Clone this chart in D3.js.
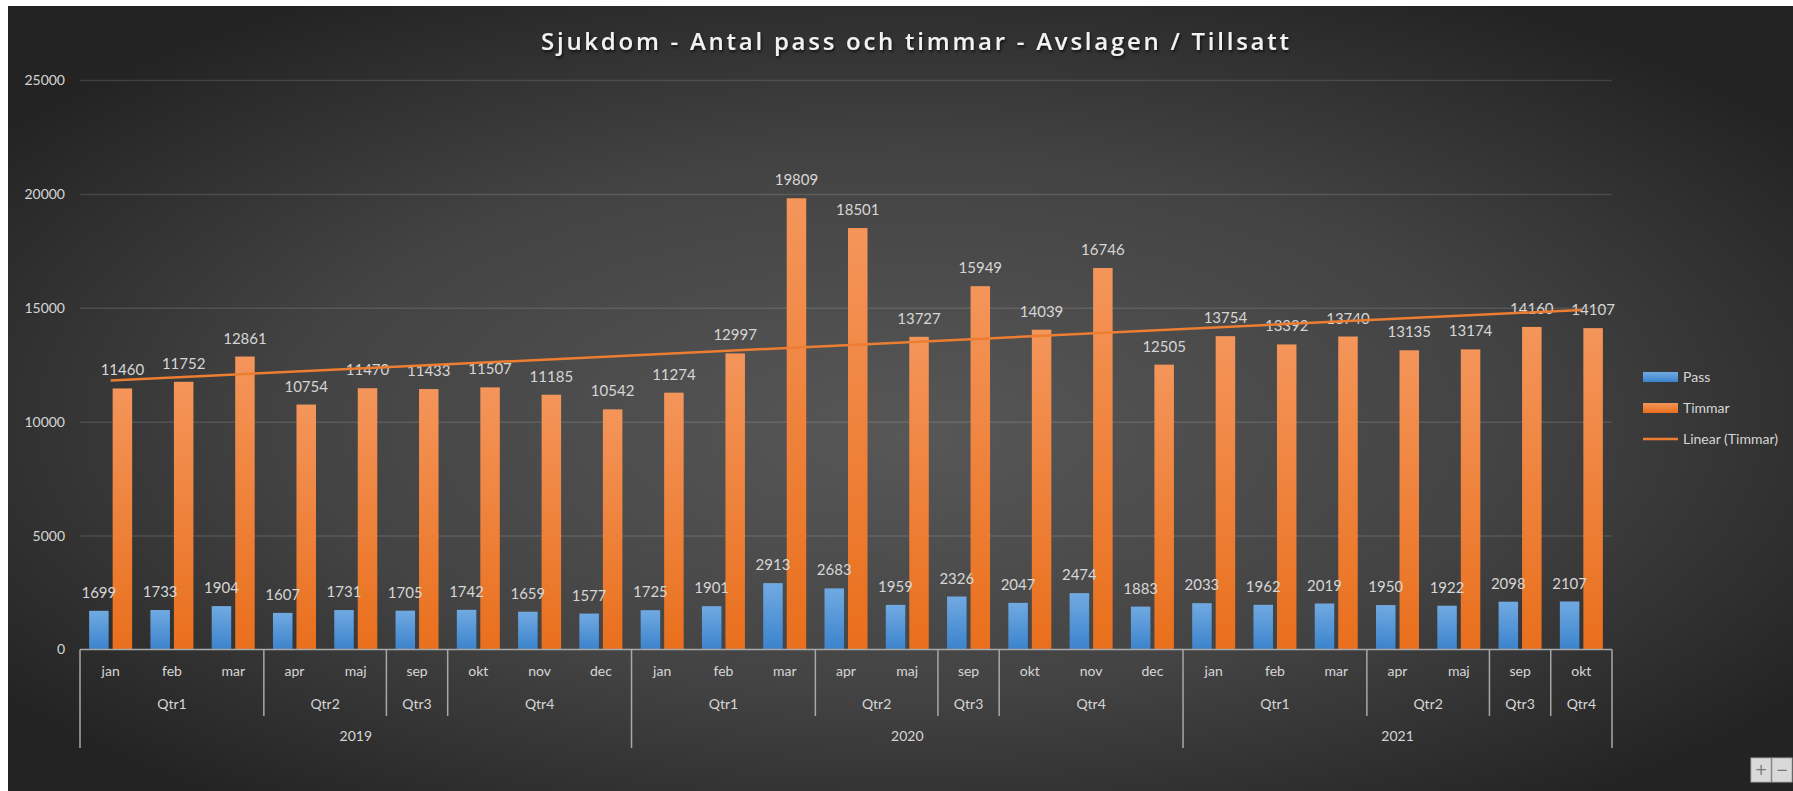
<!DOCTYPE html>
<html>
<head>
<meta charset="utf-8">
<script src="https://cdn.jsdelivr.net/npm/d3@7"></script>
<style>
  html, body { margin: 0; padding: 0; background: #fff; overflow: hidden; }
  svg { display: block; }
</style>
</head>
<body>
<svg id="chart" width="1793" height="791"></svg>
<script>
// Data
const months = ["jan","feb","mar","apr","maj","sep","okt","nov","dec",
                "jan","feb","mar","apr","maj","sep","okt","nov","dec",
                "jan","feb","mar","apr","maj","sep","okt"];
const quarters = ["Qtr1","Qtr1","Qtr1","Qtr2","Qtr2","Qtr3","Qtr4","Qtr4","Qtr4",
                  "Qtr1","Qtr1","Qtr1","Qtr2","Qtr2","Qtr3","Qtr4","Qtr4","Qtr4",
                  "Qtr1","Qtr1","Qtr1","Qtr2","Qtr2","Qtr3","Qtr4"];
const years = ["2019","2019","2019","2019","2019","2019","2019","2019","2019",
               "2020","2020","2020","2020","2020","2020","2020","2020","2020",
               "2021","2021","2021","2021","2021","2021","2021"];
const pass = [1699,1733,1904,1607,1731,1705,1742,1659,1577,
              1725,1901,2913,2683,1959,2326,2047,2474,1883,
              2033,1962,2019,1950,1922,2098,2107];
const timmar = [11460,11752,12861,10754,11470,11433,11507,11185,10542,
                11274,12997,19809,18501,13727,15949,14039,16746,12505,
                13754,13392,13740,13135,13174,14160,14107];
const yTicks = [0,5000,10000,15000,20000,25000];
const seriesNames = ["Pass","Timmar"];
const title = "Sjukdom - Antal pass och timmar - Avslagen / Tillsatt";

const svg = d3.select("#chart");
const W = 1793, H = 791;
const plot = { left: 80, right: 1612, top: 80, bottom: 649.5 };
const labelColor = "#d6d6d6";
const font = "Lato, 'Open Sans', sans-serif";

const defs = svg.append("defs");

// background gradient
const bg = defs.append("radialGradient").attr("id", "bg")
    .attr("cx", "50%").attr("cy", "52%").attr("r", "62%")
    .attr("fx", "50%").attr("fy", "55%");
bg.append("stop").attr("offset", "0%").attr("stop-color", "#575757");
bg.append("stop").attr("offset", "55%").attr("stop-color", "#434343");
bg.append("stop").attr("offset", "100%").attr("stop-color", "#232323");

const blueGrad = defs.append("linearGradient").attr("id", "blueGrad")
    .attr("x1", 0).attr("y1", 0).attr("x2", 0).attr("y2", 1);
blueGrad.append("stop").attr("offset", "0%").attr("stop-color", "#71aae2");
blueGrad.append("stop").attr("offset", "100%").attr("stop-color", "#3b83cc");

const orangeGrad = defs.append("linearGradient").attr("id", "orangeGrad")
    .attr("x1", 0).attr("y1", 0).attr("x2", 0).attr("y2", 1);
orangeGrad.append("stop").attr("offset", "0%").attr("stop-color", "#f4955a");
orangeGrad.append("stop").attr("offset", "100%").attr("stop-color", "#e96f1c");

const shadow = defs.append("filter").attr("id", "shadow")
    .attr("x", "-5%").attr("y", "-30%").attr("width", "110%").attr("height", "160%");
shadow.append("feDropShadow").attr("dx", 1).attr("dy", 2).attr("stdDeviation", 1.5)
    .attr("flood-color", "#000").attr("flood-opacity", 0.7);

// white frame + chart background
svg.append("rect").attr("width", W).attr("height", H).attr("fill", "#fff");
svg.append("rect").attr("x", 8).attr("y", 6).attr("width", W - 8).attr("height", H - 6)
    .attr("fill", "url(#bg)");

// title
svg.append("text")
    .attr("x", 915).attr("y", 50)
    .attr("text-anchor", "middle")
    .attr("fill", "#f2f2f2")
    .attr("font-family", "'Open Sans', sans-serif")
    .attr("font-weight", 600)
    .attr("font-size", 24)
    .attr("textLength", 748)
    .attr("lengthAdjust", "spacing")
    .attr("filter", "url(#shadow)")
    .text(title);

// scales
const idx = d3.range(months.length);
const x = d3.scaleBand().domain(idx).range([plot.left, plot.right]).paddingInner(0).paddingOuter(0);
const bw = x.bandwidth();
const xs = d3.scaleBand().domain(seriesNames)
    .range([bw / 2 - 21.5, bw / 2 + 21.5]).paddingInner(4 / 23.5);
const y = d3.scaleLinear().domain([0, 25000]).range([plot.bottom, plot.top]);

// gridlines + y labels
const yAxis = svg.append("g")
    .attr("transform", `translate(${plot.left},0)`)
    .call(d3.axisLeft(y).tickValues(yTicks).tickSize(-(plot.right - plot.left)).tickPadding(15).tickFormat(d3.format("d")));
yAxis.select(".domain").remove();
yAxis.selectAll(".tick line")
    .attr("stroke", "#ffffff").attr("stroke-opacity", d => d === 0 ? 0 : 0.12).attr("stroke-width", 1.5);
yAxis.selectAll(".tick text")
    .attr("fill", labelColor).attr("font-family", font).attr("font-size", 14);

// bars
const groups = svg.append("g").selectAll("g")
    .data(idx).join("g")
    .attr("transform", i => `translate(${x(i)},0)`);

groups.append("rect")
    .attr("x", xs("Pass")).attr("width", xs.bandwidth())
    .attr("y", i => y(pass[i])).attr("height", i => y(0) - y(pass[i]))
    .attr("fill", "url(#blueGrad)");
groups.append("rect")
    .attr("x", xs("Timmar")).attr("width", xs.bandwidth())
    .attr("y", i => y(timmar[i])).attr("height", i => y(0) - y(timmar[i]))
    .attr("fill", "url(#orangeGrad)");

// linear trendline for Timmar (least squares over category index)
const n = timmar.length;
const xm = d3.mean(idx), ym = d3.mean(timmar);
const slope = d3.sum(idx, i => (i - xm) * (timmar[i] - ym)) / d3.sum(idx, i => (i - xm) ** 2);
const intercept = ym - slope * xm;
const trendPts = [0, n - 1].map(i => [x(i) + bw / 2, y(intercept + slope * i)]);
svg.append("path")
    .attr("d", d3.line()(trendPts))
    .attr("stroke", "#ed7d31").attr("stroke-width", 2.5).attr("fill", "none");

// data labels
groups.append("text")
    .attr("x", xs("Pass") + xs.bandwidth() / 2)
    .attr("y", i => y(pass[i]) - 13)
    .attr("text-anchor", "middle")
    .attr("fill", labelColor).attr("font-family", font).attr("font-size", 15)
    .text(i => pass[i]);
groups.append("text")
    .attr("x", xs("Timmar") + xs.bandwidth() / 2)
    .attr("y", i => y(timmar[i]) - 13)
    .attr("text-anchor", "middle")
    .attr("fill", labelColor).attr("font-family", font).attr("font-size", 15)
    .text(i => timmar[i]);

// multi-level category axis
const axisColor = "#a8a8a8";
const axisG = svg.append("g");
axisG.append("line")
    .attr("x1", plot.left).attr("x2", plot.right)
    .attr("y1", plot.bottom).attr("y2", plot.bottom)
    .attr("stroke", axisColor).attr("stroke-width", 1.5);

function spans(keyFn) {
  const out = [];
  idx.forEach(i => {
    const k = keyFn(i);
    if (out.length && out[out.length - 1].key === k) out[out.length - 1].end = i;
    else out.push({ key: k, start: i, end: i });
  });
  return out;
}
const quarterSpans = spans(i => years[i] + quarters[i]).map(s => ({ ...s, label: quarters[s.start] }));
const yearSpans = spans(i => years[i]).map(s => ({ ...s, label: years[s.start] }));
const yearBounds = new Set(yearSpans.map(s => s.start).concat([n]));
const quarterBounds = quarterSpans.map(s => s.start).filter(b => !yearBounds.has(b));

const edge = i => (i >= n ? x(n - 1) + bw : x(i));
axisG.selectAll(".qdiv").data(quarterBounds).join("line")
    .attr("x1", edge).attr("x2", edge)
    .attr("y1", plot.bottom).attr("y2", 716)
    .attr("stroke", axisColor).attr("stroke-width", 1.5);
axisG.selectAll(".ydiv").data([...yearBounds]).join("line")
    .attr("x1", edge).attr("x2", edge)
    .attr("y1", plot.bottom).attr("y2", 748)
    .attr("stroke", axisColor).attr("stroke-width", 1.5);

axisG.selectAll(".mlab").data(idx).join("text")
    .attr("x", i => x(i) + bw / 2).attr("y", 676)
    .attr("text-anchor", "middle").attr("fill", labelColor)
    .attr("font-family", font).attr("font-size", 14)
    .text(i => months[i]);
axisG.selectAll(".qlab").data(quarterSpans).join("text")
    .attr("x", s => (x(s.start) + x(s.end) + bw) / 2).attr("y", 709)
    .attr("text-anchor", "middle").attr("fill", labelColor)
    .attr("font-family", font).attr("font-size", 14)
    .text(s => s.label);
axisG.selectAll(".ylab").data(yearSpans).join("text")
    .attr("x", s => (x(s.start) + x(s.end) + bw) / 2).attr("y", 741)
    .attr("text-anchor", "middle").attr("fill", labelColor)
    .attr("font-family", font).attr("font-size", 14)
    .text(s => s.label);

// legend
const legend = svg.append("g").attr("transform", "translate(1643,0)");
const legendItems = [
  { name: "Pass", type: "rect", fill: "url(#blueGrad)", y: 377 },
  { name: "Timmar", type: "rect", fill: "url(#orangeGrad)", y: 408 },
  { name: "Linear (Timmar)", type: "line", fill: "#ed7d31", y: 439 }
];
legendItems.forEach(d => {
  if (d.type === "rect") {
    legend.append("rect").attr("x", 0).attr("y", d.y - 5).attr("width", 35).attr("height", 10).attr("fill", d.fill);
  } else {
    legend.append("line").attr("x1", 0).attr("x2", 35).attr("y1", d.y).attr("y2", d.y)
        .attr("stroke", d.fill).attr("stroke-width", 2.5);
  }
  legend.append("text").attr("x", 40).attr("y", d.y + 5)
      .attr("fill", labelColor).attr("font-family", font).attr("font-size", 14)
      .text(d.name);
});

// zoom control in the corner
const zc = svg.append("g").attr("transform", "translate(1751,758)");
[0, 1].forEach(k => {
  zc.append("rect").attr("x", k * 21).attr("y", 0).attr("width", 20).attr("height", 24)
      .attr("fill", "#d9d9d9").attr("stroke", "#aaa");
  zc.append("text").attr("x", k * 21 + 10).attr("y", 17).attr("text-anchor", "middle")
      .attr("fill", "#777").attr("font-family", "DejaVu Sans, sans-serif").attr("font-size", 15)
      .text(k === 0 ? "+" : "−");
});
</script>
</body>
</html>
